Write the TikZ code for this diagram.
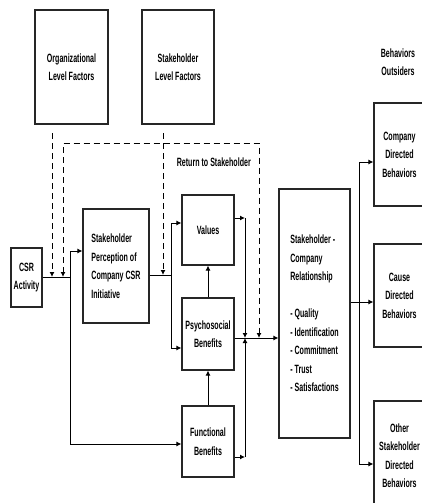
\documentclass[tikz,border=0pt]{standalone}
\usepackage{fontspec}
\setmainfont{Liberation Sans}[FakeStretch=0.59]
\usetikzlibrary{arrows.meta}

\begin{document}
\begin{tikzpicture}[x=1pt,y=-1pt,>={Latex[length=5pt,width=5pt]},
    font=\bfseries\fontsize{12}{18.5}\selectfont, line width=1pt]
	    \tikzstyle{box}=[draw=black!85, line width=1.1pt, inner sep=0pt, align=center]
	    \tikzstyle{feedback}=[dash pattern=on 6pt off 4pt]
	    
	    \clip (0,0) rectangle (422,503);
	    
	    % boxes
	    \node[box, minimum width=73pt, minimum height=114pt] (org) at (71.5,67) {Organizational\\Level Factors};
	    \node[box, minimum width=72pt, minimum height=114pt] (stk) at (178,67) {Stakeholder\\Level Factors};
	    \node[align=center] (outs) at (398,62) {Behaviors\\Outsiders};
	    \node[box, minimum width=31pt, minimum height=59pt] (csr) at (26.5,277.5) {CSR\\Activity};
	    \node[box, align=left, minimum width=66pt, minimum height=114pt] (perc) at (116,266) {Stakeholder\\Perception of\\Company CSR\\Initiative};
	    \node[box, minimum width=52pt, minimum height=70pt] (val) at (208,230) {Values};
	    \node[box, minimum width=52pt, minimum height=72pt] (psy) at (208,334) {Psychosocial\\Benefits};
	    \node[box, minimum width=52pt, minimum height=71pt] (fun) at (208,441.5) {Functional\\Benefits};
	    \node[box, align=left, minimum width=71pt, minimum height=249pt] (rel) at (314.5,313.5) {Stakeholder -\\Company\\Relationship\\[18.5pt]- Quality\\- Identification\\- Commitment\\- Trust\\- Satisfactions};
	    \node[box, minimum width=51pt, minimum height=103pt] (comp) at (399.5,154.5) {Company\\Directed\\Behaviors};
	    \node[box, minimum width=51pt, minimum height=103pt] (cause) at (399.5,295.5) {Cause\\Directed\\Behaviors};
	    \node[box, minimum width=51pt, minimum height=109pt] (other) at (399.5,455.5) {Other\\Stakeholder\\Directed\\Behaviors};
	    \node[anchor=west] (ret) at (173,162) {Return to Stakeholder};
	    
	    % junctions
	    \coordinate (a0) at (70,277);
	    \coordinate (a1) at (70,251);
	    \coordinate (a2) at (70,444);
	    \coordinate (b0) at (171,275);
	    \coordinate (b1) at (171,223);
	    \coordinate (b2) at (171,348);
	    \coordinate (c0) at (245,338);
	    \coordinate (c1) at (245,218);
	    \coordinate (c2) at (245,457);
	    \coordinate (d0) at (359,302);
	    \coordinate (d1) at (359,162);
	    \coordinate (d2) at (359,464);
	    \coordinate (e0) at (52,133);
	    \coordinate (f0) at (63,143);
	    \coordinate (f1) at (259,143);
	    \coordinate (g0) at (163,133);
	    
	    % CSR activity
	    \draw (csr.east |- a0) -- (a0);
	    \draw (a1) -- (a2);
	    \draw[->] (a1) -- (a1 -| perc.west);
	    \draw[->] (a2) -- (a2 -| fun.west);
	    
	    % perception to benefits
	    \draw (perc.east |- b0) -- (b0);
	    \draw (b1) -- (b2);
	    \draw[->] (b1) -- (b1 -| val.west);
	    \draw[->] (b2) -- (b2 -| psy.west);
	    \draw[->] (psy.north) -- (val.south);
	    \draw[->] (fun.north) -- (psy.south);
	    
	    % benefits to relationship
	    \draw[->] (val.east |- c1) -- (c1);
	    \draw[->] (fun.east |- c2) -- (c2);
	    \draw[->] (c1) -- (c0);
	    \draw[->] (c2) -- (c0);
	    \draw[->] (psy.east |- c0) -- (c0 -| rel.west);
	    
	    % relationship to behaviors
	    \draw[->] (rel.east |- d0) -- (d0 -| cause.west);
	    \draw (d1) -- (d2);
	    \draw[->] (d1) -- (d1 -| comp.west);
	    \draw[->] (d2) -- (d2 -| other.west);
	    
	    % dashed influences
	    \draw[feedback,->] (e0) -- (e0 |- a0);
	    \draw[feedback,->] (g0) -- (g0 |- b0);
	    \draw[feedback,<->] (f0 |- a0) -- (f0) -- (f1) -- (f1 |- c0);
    
    \end{tikzpicture}
\end{document}
